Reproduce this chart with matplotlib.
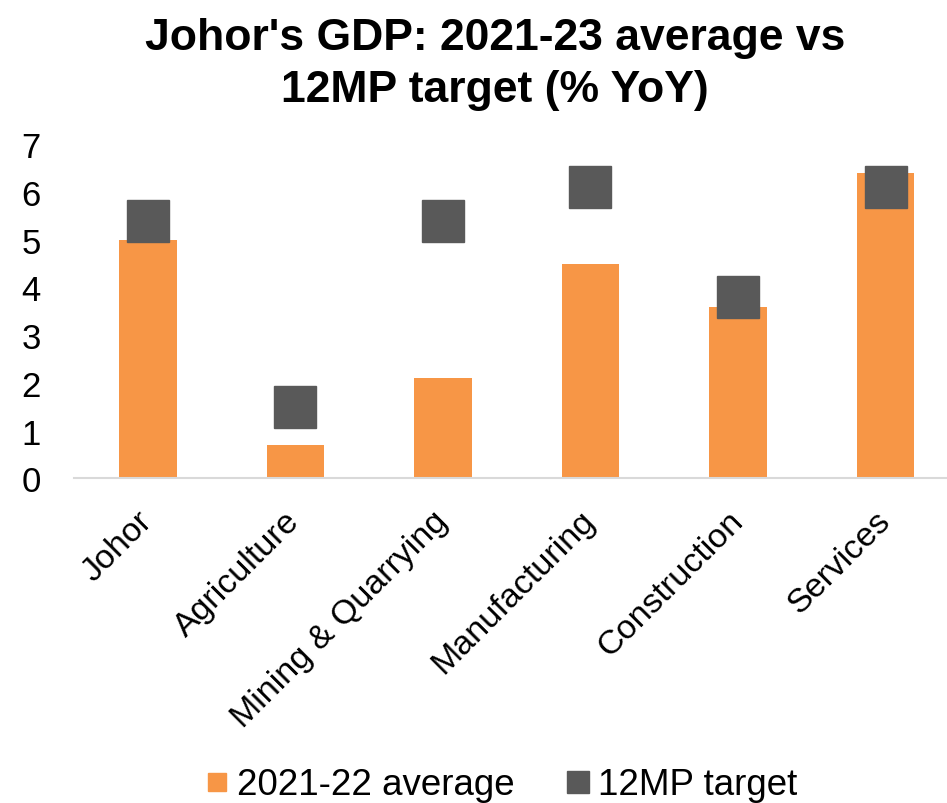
import matplotlib
matplotlib.use("Agg")
import matplotlib.pyplot as plt
from matplotlib.lines import Line2D

plt.rcParams['font.family'] = ['Liberation Sans', 'DejaVu Sans']

sectors = ["Johor", "Agriculture", "Mining & Quarrying", "Manufacturing",
           "Construction", "Services"]
avg_2021_22 = [5.0, 0.7, 2.1, 4.5, 3.6, 6.4]
target_12mp = [5.4, 1.5, 5.4, 6.1, 3.8, 6.1]

ORANGE = "#F79646"
GREY = "#595959"

fig = plt.figure(figsize=(9.47, 8.04), dpi=100)
ax = fig.add_axes([0.0781, 0.4039, 0.935, 0.4153])

x = range(len(sectors))
ax.bar(x, avg_2021_22, width=0.39, color=ORANGE, zorder=2)
ax.plot(x, target_12mp, linestyle="none", marker="s", markersize=30,
        color=GREY, zorder=3)

ax.set_xlim(-0.5, 5.5)
ax.set_ylim(0, 7)
ax.set_yticks(range(0, 8))
ax.tick_params(axis="y", length=0, labelsize=25, pad=24)
ax.tick_params(axis="x", length=0, labelsize=24.5, pad=27)
ax.set_xticks(list(x))
ax.set_xticklabels(sectors, rotation=45, ha="right", va="center",
                   rotation_mode="anchor")

for side in ["top", "right", "left"]:
    ax.spines[side].set_visible(False)
ax.spines["bottom"].set_color("#d9d9d9")
ax.spines["bottom"].set_linewidth(1.5)

fig.text(0.523, 0.978, "Johor's GDP: 2021-23 average vs\n12MP target (% YoY)",
         ha="center", va="top", fontsize=32, fontweight="bold", linespacing=1.34)

handles = [
    Line2D([], [], linestyle="none", marker="s", markersize=13.5, color=ORANGE),
    Line2D([], [], linestyle="none", marker="s", markersize=16.5, color=GREY),
]
fig.legend(handles, ["2021-22 average", "12MP target"], loc="center",
           bbox_to_anchor=(0.5296, 1 - 786 / 804), ncol=2, frameon=False,
           fontsize=26.5, handlelength=0.6, handletextpad=0.25, columnspacing=1.4)

fig.savefig("out.png", dpi=100)
